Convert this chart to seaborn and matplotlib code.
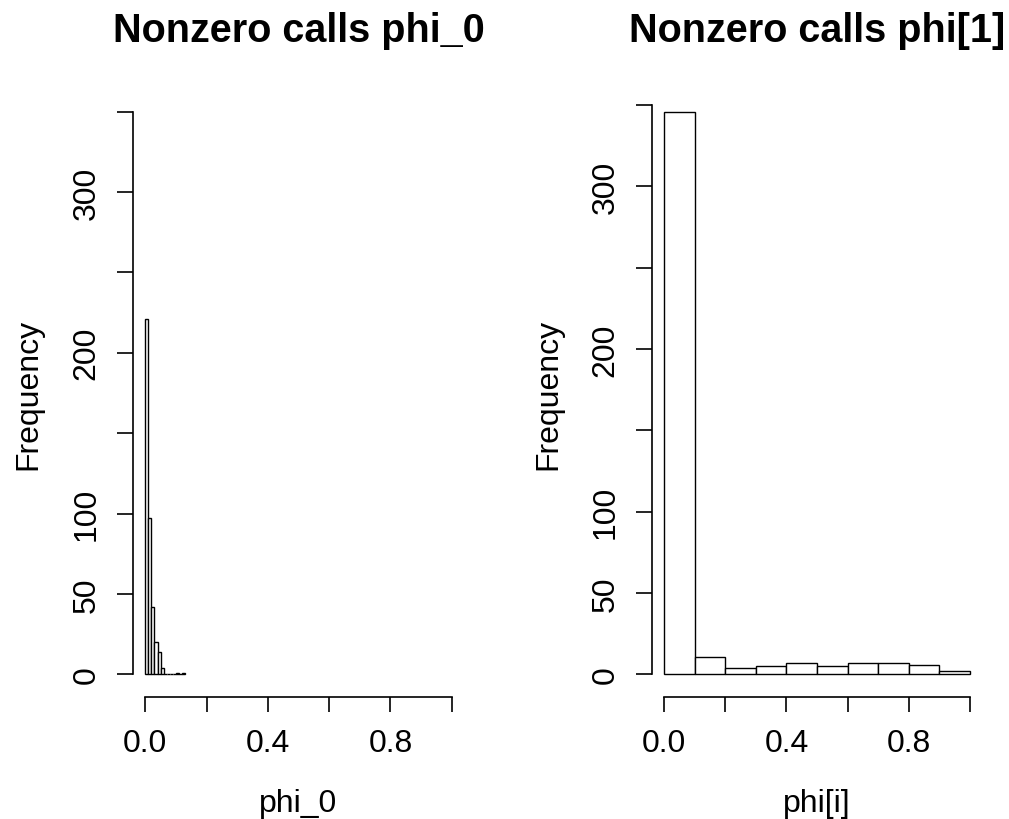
import numpy as np
import pandas as pd
import matplotlib
matplotlib.use("Agg")
import matplotlib.pyplot as plt
import seaborn as sns

# ---- data ----
phi0_bin_left = [0.00, 0.01, 0.02, 0.03, 0.04, 0.05, 0.06, 0.07, 0.08, 0.09, 0.10, 0.11, 0.12]
phi0_counts = [221, 97, 42, 20, 14, 4, 0, 0, 0, 0, 1, 0, 1]
phi0_binwidth = 0.01

phi1_bin_left = [0.0, 0.1, 0.2, 0.3, 0.4, 0.5, 0.6, 0.7, 0.8, 0.9]
phi1_counts = [346, 11, 4, 5, 7, 5, 7, 7, 6, 2]
phi1_binwidth = 0.1

titles = ["Nonzero calls phi_0", "Nonzero calls phi[1]"]
xlabels = ["phi_0", "phi[i]"]
ylabel = "Frequency"
xticks = [0.0, 0.2, 0.4, 0.6, 0.8, 1.0]
xticklabels = ["0.0", "", "0.4", "", "0.8", ""]
yticks = [0, 50, 100, 150, 200, 250, 300, 350]
yticklabels = ["0", "50", "100", "", "200", "", "300", ""]
ylims_max = [350, 346]

sns.set_style("ticks")
plt.rcParams["font.family"] = ["Liberation Sans", "DejaVu Sans"]
plt.rcParams["text.color"] = "black"

W, H = 1009, 820
DPI = 100
fig = plt.figure(figsize=(W / DPI, H / DPI), dpi=DPI)
fig.patch.set_facecolor("white")

ax_left_px = [133, 652]
ax_width_px = [331, 330]
ax_top_px, ax_bot_px = 90, 698

datasets = [
    (phi0_bin_left, phi0_counts, phi0_binwidth),
    (phi1_bin_left, phi1_counts, phi1_binwidth),
]

LW = 1.2
FS = 23

for i, (lefts, counts, bw) in enumerate(datasets):
    ax = fig.add_axes([ax_left_px[i] / W, (H - ax_bot_px) / H,
                       ax_width_px[i] / W, (ax_bot_px - ax_top_px) / H])
    ax.set_facecolor("white")
    lefts = np.asarray(lefts, dtype=float)
    centers = lefts + bw / 2
    edges = list(lefts) + [lefts[-1] + bw]
    df = pd.DataFrame({"x": centers, "w": counts})
    sns.histplot(data=df, x="x", weights="w", bins=edges, ax=ax,
                 color="white", edgecolor="black", linewidth=1.0, alpha=1.0)
    ymax = ylims_max[i]
    ax.set_xlim(-0.04, 1.04)
    ax.set_ylim(-0.04 * ymax, 1.04 * ymax)
    for s in ["top", "right"]:
        ax.spines[s].set_visible(False)
    ax.spines["left"].set_bounds(0, 350)
    ax.spines["bottom"].set_bounds(0, 1)
    for s in ["left", "bottom"]:
        ax.spines[s].set_linewidth(LW)
        ax.spines[s].set_color("black")
    ax.set_xticks(xticks)
    ax.set_xticklabels(xticklabels)
    ax.set_yticks(yticks)
    ax.set_yticklabels(yticklabels)
    ax.tick_params(axis="x", direction="out", length=11, width=LW, pad=11.5,
                   labelsize=FS, colors="black")
    ax.tick_params(axis="y", direction="out", length=11.5, width=LW, pad=11,
                   labelsize=FS, colors="black", labelrotation=90)
    for lab in ax.get_yticklabels():
        lab.set_va("center")
    ax.set_xlabel("")
    ax.set_ylabel("")

    cx = (ax_left_px[i] + ax_width_px[i] / 2) / W
    fig.text(cx, 1 - 42 / H, titles[i], ha="center", va="baseline",
             fontsize=28.5, fontweight="bold", color="black")
    fig.text(cx, 1 - 812 / H, xlabels[i], ha="center", va="baseline",
             fontsize=FS, color="black")
    ylx = [28, 548][i]
    fig.text(ylx / W, 1 - 394 / H, ylabel, ha="center", va="center",
             rotation=90, fontsize=FS, color="black")

fig.savefig("out.png", dpi=DPI, facecolor="white")
